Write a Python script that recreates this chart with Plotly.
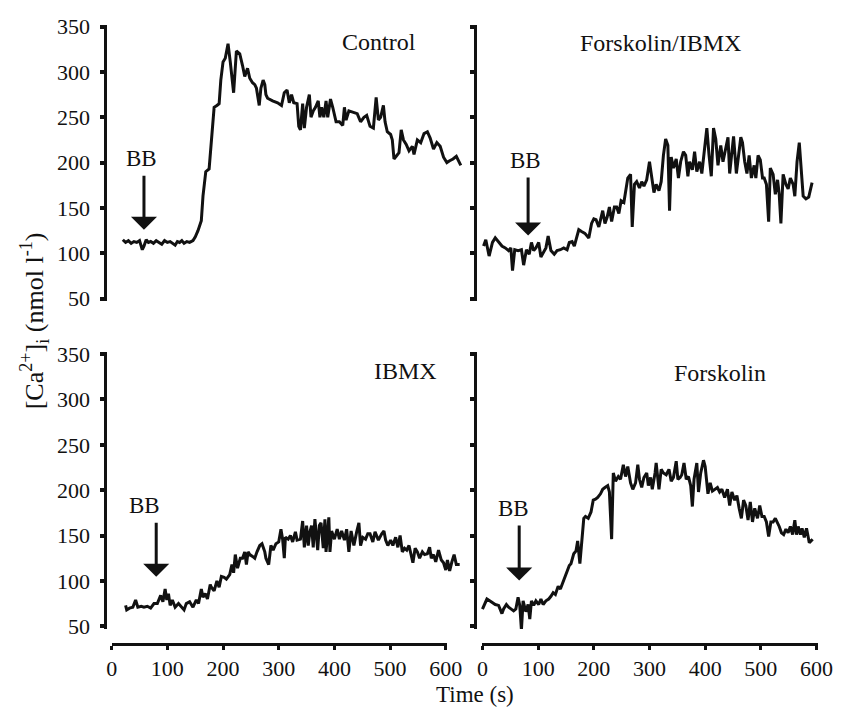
import plotly.graph_objects as go

W, H = 865, 715
FONT = "Liberation Serif"
INK = "#111111"

# ---------------- data (time in s, [Ca2+]i in nmol l-1) ----------------
control_t = [20, 25, 30, 35, 40, 45, 50, 55, 58, 62,
             66, 70, 75, 80, 85, 90, 95, 100, 105, 110,
             114, 118, 122, 126, 130, 135, 140, 146, 150, 155,
             161, 164, 169, 175, 178, 181, 184, 189, 193, 196,
             200, 204, 209, 213, 219, 224, 230, 235, 239, 244,
             248, 253, 257, 260, 265, 268, 272, 275, 277, 280,
             289, 298, 305, 310, 315, 319, 323, 327, 333, 336,
             339, 343, 346, 350, 355, 358, 362, 366, 371, 374,
             377, 381, 385, 388, 393, 397, 403, 409, 415, 418,
             421, 426, 432, 441, 447, 453, 458, 464, 470, 475,
             479, 483, 488, 491, 495, 501, 504, 507, 511, 516,
             520, 524, 529, 534, 540, 543, 549, 555, 561, 567,
             572, 578, 584, 590, 596, 602, 607, 613, 619, 627]
control_v = [115, 112, 114, 111, 113, 112, 114, 104, 108, 115,
             112, 113, 111, 114, 112, 110, 114, 112, 113, 111,
             109, 113, 112, 114, 111, 113, 112, 114, 118, 125,
             136, 163, 190, 193, 218, 232, 261, 263, 265, 291,
             311, 315, 331, 311, 277, 323, 320, 307, 295, 304,
             293, 288, 286, 282, 263, 282, 291, 286, 275, 271,
             268, 266, 263, 277, 280, 266, 275, 266, 265, 240,
             236, 265, 238, 261, 275, 250, 257, 261, 268, 250,
             261, 250, 268, 250, 270, 261, 245, 245, 241, 261,
             247, 257, 256, 254, 245, 250, 252, 240, 238, 272,
             247, 250, 263, 245, 234, 231, 225, 204, 207, 211,
             236, 225, 220, 213, 218, 209, 225, 222, 232, 234,
             227, 215, 222, 218, 206, 200, 202, 204, 207, 197]

fi_t = [2, 6, 12, 18, 23, 29, 35, 41, 47, 51,
        54, 58, 64, 70, 74, 79, 84, 88, 92, 96,
        101, 105, 109, 114, 118, 123, 129, 134, 140, 146,
        152, 156, 161, 165, 169, 173, 178, 184, 191, 196,
        200, 204, 209, 213, 216, 220, 224, 228, 232, 237,
        241, 245, 249, 254, 257, 261, 266, 269, 273, 277,
        282, 286, 290, 295, 300, 304, 308, 312, 317, 321,
        325, 329, 333, 336, 339, 343, 348, 352, 356, 361,
        365, 369, 372, 377, 381, 385, 390, 394, 399, 403,
        407, 411, 415, 419, 423, 428, 432, 436, 441, 444,
        448, 451, 456, 460, 464, 467, 471, 475, 479, 483,
        488, 491, 495, 499, 503, 506, 510, 514, 517, 522,
        526, 530, 533, 536, 540, 545, 549, 553, 558, 561,
        565, 569, 572, 576, 581, 586, 592]
fi_v = [108, 115, 97, 112, 117, 113, 108, 106, 103, 106,
        81, 104, 103, 104, 87, 104, 99, 112, 103, 106,
        112, 96, 101, 106, 119, 103, 99, 103, 104, 106,
        104, 112, 113, 108, 117, 126, 124, 122, 117, 133,
        138, 137, 129, 140, 147, 133, 140, 151, 135, 151,
        151, 144, 158, 156, 169, 183, 187, 129, 176, 179,
        172, 179, 174, 181, 201, 183, 167, 176, 169, 179,
        208, 226, 219, 147, 206, 194, 204, 183, 201, 212,
        208, 185, 201, 192, 212, 190, 201, 188, 219, 238,
        208, 185, 238, 226, 197, 219, 201, 215, 228, 188,
        212, 229, 188, 208, 228, 222, 201, 188, 208, 183,
        197, 183, 208, 203, 183, 183, 176, 135, 194, 187,
        165, 181, 165, 133, 187, 176, 171, 183, 176, 163,
        201, 222, 197, 163, 160, 162, 178]

ibmx_t = [25, 27, 32, 38, 43, 47, 53, 58, 64, 70,
          76, 82, 88, 92, 96, 99, 102, 105, 109, 114,
          120, 126, 130, 134, 140, 146, 152, 156, 161, 164,
          168, 172, 177, 179, 184, 189, 193, 197, 202, 206,
          212, 216, 219, 222, 226, 231, 235, 239, 242, 245,
          248, 253, 257, 261, 266, 270, 275, 277, 282, 286,
          290, 295, 300, 304, 307, 310, 312, 317, 321, 325,
          330, 333, 339, 343, 346, 350, 353, 356, 359, 362,
          365, 370, 373, 376, 380, 383, 385, 390, 392, 395,
          400, 405, 409, 413, 418, 422, 426, 430, 435, 440,
          444, 447, 451, 456, 460, 464, 469, 473, 479, 485,
          489, 492, 496, 501, 505, 510, 514, 518, 522, 526,
          530, 534, 537, 541, 545, 549, 553, 558, 562, 567,
          571, 574, 578, 582, 587, 592, 596, 600, 603, 607,
          611, 615, 619, 625]
ibmx_v = [73, 68, 70, 71, 79, 71, 72, 71, 72, 70,
          75, 75, 84, 77, 91, 79, 86, 73, 79, 71,
          75, 71, 68, 75, 77, 71, 79, 75, 91, 82,
          86, 80, 96, 93, 89, 100, 93, 105, 104, 102,
          107, 118, 109, 129, 114, 125, 125, 132, 118, 132,
          129, 127, 125, 132, 139, 141, 132, 125, 118, 139,
          134, 141, 143, 157, 146, 125, 148, 146, 150, 143,
          154, 145, 146, 166, 137, 161, 139, 154, 161, 137,
          168, 134, 161, 164, 136, 168, 132, 170, 132, 155,
          146, 157, 146, 155, 145, 157, 132, 155, 139, 154,
          164, 139, 148, 146, 152, 152, 143, 154, 145, 152,
          155, 145, 139, 145, 139, 148, 137, 150, 132, 136,
          134, 139, 130, 120, 136, 132, 125, 132, 129, 130,
          137, 125, 129, 121, 134, 123, 120, 112, 123, 111,
          121, 129, 118, 118]

forsk_t = [0, 3, 8, 13, 19, 23, 29, 35, 38, 43,
           47, 51, 56, 60, 64, 67, 70, 73, 78, 82,
           85, 88, 92, 96, 101, 105, 109, 114, 119, 123,
           127, 131, 136, 140, 144, 149, 152, 156, 159, 164,
           168, 171, 175, 178, 182, 185, 190, 195, 199, 203,
           207, 212, 216, 220, 225, 228, 232, 235, 239, 244,
           248, 253, 257, 261, 266, 270, 275, 279, 282, 286,
           290, 295, 298, 302, 305, 310, 312, 317, 321, 325,
           330, 335, 339, 343, 348, 351, 355, 358, 362, 366,
           370, 374, 377, 380, 383, 385, 388, 392, 397, 400,
           405, 409, 413, 418, 422, 426, 430, 435, 440, 444,
           448, 453, 457, 461, 465, 469, 473, 477, 481, 485,
           489, 494, 498, 502, 506, 510, 514, 518, 522, 526,
           530, 533, 537, 541, 545, 549, 553, 557, 561, 564,
           567, 571, 574, 578, 582, 587, 590, 593]
forsk_v = [69, 74, 80, 78, 76, 74, 73, 64, 69, 74,
           71, 69, 67, 69, 82, 73, 46, 78, 66, 74,
           58, 78, 73, 78, 74, 80, 74, 78, 80, 83,
           87, 85, 94, 91, 98, 105, 110, 117, 119, 130,
           133, 144, 119, 140, 169, 171, 169, 176, 189, 190,
           192, 196, 201, 203, 205, 198, 146, 219, 210, 215,
           212, 228, 215, 226, 208, 201, 208, 228, 212, 203,
           214, 219, 205, 214, 201, 219, 230, 201, 223, 219,
           217, 223, 210, 214, 232, 212, 214, 217, 230, 212,
           215, 205, 182, 212, 226, 230, 198, 219, 233, 226,
           196, 208, 199, 201, 203, 198, 201, 192, 201, 183,
           198, 189, 194, 180, 169, 189, 183, 167, 187, 165,
           180, 169, 183, 171, 171, 165, 149, 165, 165, 169,
           164, 160, 153, 151, 157, 153, 160, 151, 167, 151,
           160, 151, 158, 148, 158, 142, 144, 146]

panel_names = ["Control", "Forskolin/IBMX", "IBMX", "Forskolin"]
series_t = [control_t, fi_t, ibmx_t, forsk_t]
series_v = [control_v, fi_v, ibmx_v, forsk_v]
bb_time = [58, 82, 80, 66]          # time of BB addition (arrow)
y_ticks = [50, 100, 150, 200, 250, 300, 350]
x_ticks = [0, 100, 200, 300, 400, 500, 600]

# ---------------- layout geometry (pixels) ----------------
Y_RANGE = [47, 352]
cols = [  # y-axis line x, pixel of t=0, pixel of t=600, right edge
    dict(yline=104, x0=108.3, x600=450.7, right=474),
    dict(yline=482.5, x0=488.3, x600=830.7, right=852),
]
rows = [  # pixel of 50, pixel of 350
    dict(p50=297, p350=17),
    dict(p50=634, p350=354),
]
label_pos = [(382, 33), (671, 34), (409, 371), (732, 373)]
arrow_tip_px = [226, 232, 583, 587]
bb_label_dy = [-71, -75, -71, -72]   # label centre above arrow tip (px)
bb_label_pad = [1, 1, 4, 2]          # nbsp padding -> label sits left of arrow


def fx(p):
    return p / W


def fy(p):
    return 1 - p / H


fig = go.Figure()
annotations = []

for i in range(4):
    r, c = divmod(i, 2)
    col, row = cols[c], rows[r]
    k = i + 1
    sx = (col["x600"] - col["x0"]) / 600.0
    xr = [(col["yline"] - col["x0"]) / sx, (col["right"] - col["x0"]) / sx]
    sy = (row["p50"] - row["p350"]) / 300.0
    top_px = row["p350"] - (Y_RANGE[1] - 350) * sy
    bot_px = row["p50"] + (50 - Y_RANGE[0]) * sy

    fig.add_trace(go.Scatter(
        x=series_t[i], y=series_v[i], mode="lines",
        line=dict(color=INK, width=3),
        xaxis=f"x{k}", yaxis=f"y{k}", showlegend=False, hoverinfo="skip"))

    fig.layout[f"xaxis{k}"] = dict(
        domain=[fx(col["yline"]), fx(col["right"])], range=xr,
        visible=False, anchor=f"y{k}", fixedrange=True)
    fig.layout[f"yaxis{k}"] = dict(
        domain=[fy(bot_px), fy(top_px)], range=Y_RANGE, anchor=f"x{k}",
        tickmode="array", tickvals=y_ticks,
        showticklabels=(c == 0), ticks="outside", ticklen=4, tickwidth=3.5,
        tickcolor=INK, showline=True, linewidth=3, linecolor=INK,
        showgrid=False, zeroline=False, ticklabelstandoff=6,
        tickfont=dict(family=FONT, size=22, color=INK), fixedrange=True)

    lx, ly = label_pos[i]
    annotations.append(dict(
        x=fx(lx), y=fy(ly), xref="paper", yref="paper", text=panel_names[i],
        showarrow=False, xanchor="center", yanchor="middle",
        font=dict(family=FONT, size=24, color=INK)))
    # BB label with its arrow
    tip_val = 50 + (row["p50"] - arrow_tip_px[i]) / sy
    annotations.append(dict(
        x=bb_time[i], y=tip_val, xref=f"x{k}", yref=f"y{k}",
        text="BB" + "&nbsp;" * bb_label_pad[i],
        showarrow=True, arrowhead=1, arrowsize=1.45, arrowwidth=3,
        arrowcolor=INK, ax=0, ay=bb_label_dy[i], standoff=0, borderpad=4,
        font=dict(family=FONT, size=23, color=INK)))

for j, c in enumerate(cols):
    k = 5 + j
    fig.add_trace(go.Scatter(
        x=[300], y=[200], mode="markers", marker=dict(opacity=0),
        xaxis=f"x{k}", yaxis=f"y{3 + j}", showlegend=False, hoverinfo="skip"))
    fig.layout[f"xaxis{k}"] = dict(
        domain=[fx(c["x0"]), fx(c["x600"] + 1.5)],
        range=[0, 600 + 1.5 * 600 / (c["x600"] - c["x0"])],
        anchor="free", position=fy(652),
        tickmode="array", tickvals=x_ticks, ticks="outside", ticklen=4,
        tickwidth=2.5, tickcolor=INK, showline=True, linewidth=3,
        linecolor=INK, showgrid=False, zeroline=False,
        tickfont=dict(family=FONT, size=22, color=INK), fixedrange=True)

annotations.append(dict(
    x=fx(481), y=fy(704), xref="paper", yref="paper", text="Time (s)",
    showarrow=False, xanchor="center", yanchor="middle",
    font=dict(family=FONT, size=23, color=INK)))
annotations.append(dict(
    x=fx(29), y=fy(320), xref="paper", yref="paper",
    text="[Ca<sup>2+</sup>]<sub>i</sub> (nmol l<sup>-1</sup>)",
    textangle=-90, showarrow=False, xanchor="center", yanchor="middle",
    font=dict(family=FONT, size=26, color=INK)))

fig.update_layout(
    width=W, height=H, autosize=False,
    margin=dict(l=0, r=0, t=0, b=0, pad=0),
    paper_bgcolor="white", plot_bgcolor="rgba(0,0,0,0)",
    annotations=annotations, showlegend=False)

fig.write_html("out.html")
